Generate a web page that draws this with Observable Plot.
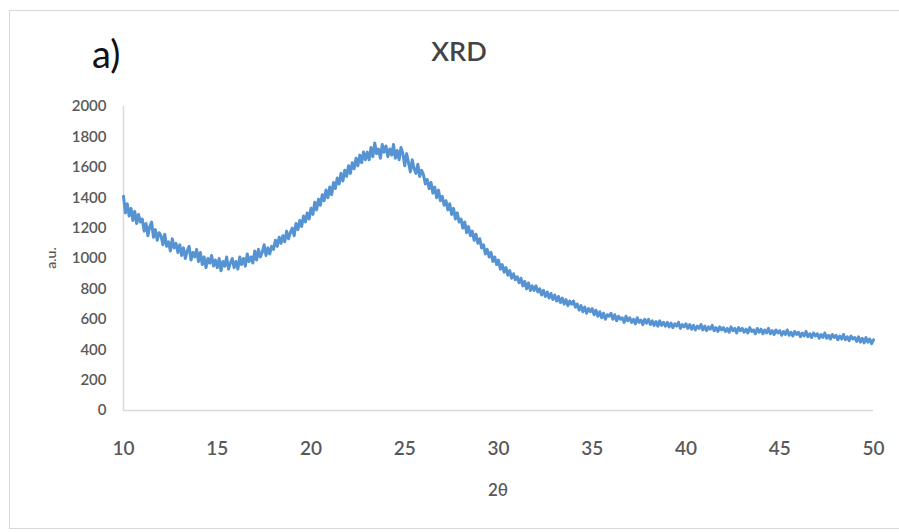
<!DOCTYPE html>
<html>
<head>
<meta charset="utf-8">
<script src="https://cdn.jsdelivr.net/npm/d3@7"></script>
<script src="https://cdn.jsdelivr.net/npm/@observablehq/plot@0.6"></script>
<style>
  html, body { margin: 0; padding: 0; background: #fff; }
  #wrap { position: relative; width: 899px; height: 532px; overflow: hidden; background: #fff; font-family: Lato, "Open Sans", sans-serif; }
  #frame { position: absolute; left: 9px; top: 10px; width: 900px; height: 519px; border: 1.5px solid #d9d9d9; border-right: none; box-sizing: border-box; }
  #chart { position: absolute; left: 0; top: 0; }
  .lbl { position: absolute; color: #595959; white-space: nowrap; }
</style>
</head>
<body>
<div id="wrap">
  <div id="frame"></div>
  <div id="chart"></div>
  <div class="lbl" id="panel" style="left:92px; top:30px; font-size:38px; color:#111;">a)</div>
  <div class="lbl" id="title" style="left:0; width:918px; text-align:center; top:34px; font-size:27px; font-weight:600; color:#444;">XRD</div>
  <div class="lbl" id="xlabel" style="left:0; width:996px; text-align:center; top:479px; font-size:17px; font-weight:600;">2θ</div>
  <div class="lbl" id="ylabel" style="left:50px; top:258px; font-size:14px; font-weight:600; transform: translate(-50%,-50%) rotate(-90deg);">a.u.</div>
</div>
<script>
const xStart = 10;
const xStep = 0.1;
const intensity = [
  1410, 1300, 1360, 1280, 1330, 1250, 1310, 1230, 1290, 1240,
  1260, 1180, 1230, 1150, 1210, 1240, 1140, 1190, 1120, 1170,
  1150, 1090, 1160, 1080, 1110, 1050, 1130, 1070, 1100, 1040,
  1090, 1020, 1070, 1000, 1050, 1080, 990, 1040, 1010, 1060,
  980, 1040, 960, 1010, 940, 1000, 970, 1020, 950, 990,
  940, 1000, 920, 980, 950, 1010, 930, 970, 1000, 940,
  980, 930, 1010, 960, 1000, 950, 1030, 980, 1010, 970,
  1050, 990, 1060, 1010, 1040, 1090, 1020, 1070, 1030, 1080,
  1060, 1120, 1080, 1140, 1100, 1150, 1110, 1180, 1130, 1170,
  1200, 1150, 1230, 1190, 1250, 1210, 1280, 1240, 1300, 1260,
  1330, 1290, 1370, 1320, 1390, 1350, 1420, 1380, 1450, 1400,
  1470, 1420, 1500, 1460, 1530, 1490, 1560, 1510, 1580, 1540,
  1610, 1560, 1630, 1590, 1660, 1610, 1680, 1630, 1700, 1650,
  1700, 1650, 1730, 1670, 1760, 1690, 1720, 1660, 1750, 1700,
  1740, 1670, 1720, 1680, 1750, 1660, 1710, 1650, 1730, 1690,
  1610, 1690, 1630, 1570, 1650, 1590, 1560, 1620, 1540, 1580,
  1550, 1490, 1520, 1460, 1500, 1430, 1470, 1400, 1450, 1380,
  1410, 1350, 1380, 1320, 1360, 1290, 1330, 1260, 1300, 1240,
  1260, 1200, 1240, 1170, 1210, 1150, 1180, 1120, 1160, 1100,
  1130, 1070, 1090, 1030, 1060, 1010, 1040, 980, 1010, 960,
  990, 930, 960, 910, 940, 890, 920, 870, 900, 860,
  880, 840, 870, 820, 850, 800, 840, 790, 820, 790,
  820, 780, 800, 760, 790, 750, 780, 740, 770, 730,
  760, 720, 750, 710, 740, 700, 730, 690, 720, 700,
  720, 680, 700, 660, 690, 650, 680, 640, 670, 650,
  670, 630, 660, 620, 650, 610, 640, 600, 630, 620,
  640, 600, 630, 590, 620, 600, 610, 580, 620, 590,
  610, 580, 600, 570, 610, 580, 595, 565, 600, 575,
  600, 565, 590, 560, 585, 555, 590, 560, 580, 555,
  580, 550, 575, 545, 570, 555, 580, 540, 565, 550,
  570, 540, 565, 535, 560, 530, 555, 540, 565, 530,
  555, 525, 550, 535, 560, 525, 545, 520, 550, 530,
  545, 520, 540, 515, 550, 525, 540, 510, 545, 525,
  540, 515, 535, 510, 545, 520, 530, 505, 540, 515,
  535, 505, 530, 510, 540, 505, 525, 500, 530, 510,
  525, 495, 520, 500, 530, 495, 515, 490, 520, 500,
  515, 485, 510, 490, 520, 485, 505, 480, 510, 490,
  505, 475, 500, 480, 510, 475, 495, 470, 500, 480,
  495, 465, 490, 470, 500, 465, 485, 460, 490, 470,
  480, 455, 485, 450, 475, 445, 480, 450, 470, 440,
  465
];
const xTicks = [10, 15, 20, 25, 30, 35, 40, 45, 50];
const yTicks = [0, 200, 400, 600, 800, 1000, 1200, 1400, 1600, 1800, 2000];

const data = intensity.map((v, i) => ({ x: +(xStart + i * xStep).toFixed(2), y: v }));

const chart = Plot.plot({
  width: 899,
  height: 532,
  marginLeft: 123,
  marginRight: 26,
  marginTop: 106,
  marginBottom: 122,
  style: { background: "transparent", color: "#595959", fontFamily: "Lato, 'Open Sans', sans-serif" },
  x: { domain: [10, 50] },
  y: { domain: [0, 2000] },
  marks: [
    Plot.ruleX([10], { stroke: "#d9d9d9", strokeWidth: 1.5 }),
    Plot.ruleY([0], { stroke: "#d9d9d9", strokeWidth: 1.5 }),
    Plot.axisY({ ticks: yTicks, tickSize: 0, tickPadding: 17, label: null, tickFormat: d => String(d), fontSize: 15, fontWeight: 600, fill: "#595959" }),
    Plot.axisX({ ticks: xTicks, tickSize: 0, tickPadding: 31, label: null, tickFormat: d => String(d), fontSize: 19, fontWeight: 600, fill: "#595959" }),
    Plot.line(data, { x: "x", y: "y", stroke: "#5593d3", strokeWidth: 3, strokeLinejoin: "round" })
  ]
});
document.getElementById("chart").appendChild(chart);
</script>
</body>
</html>
